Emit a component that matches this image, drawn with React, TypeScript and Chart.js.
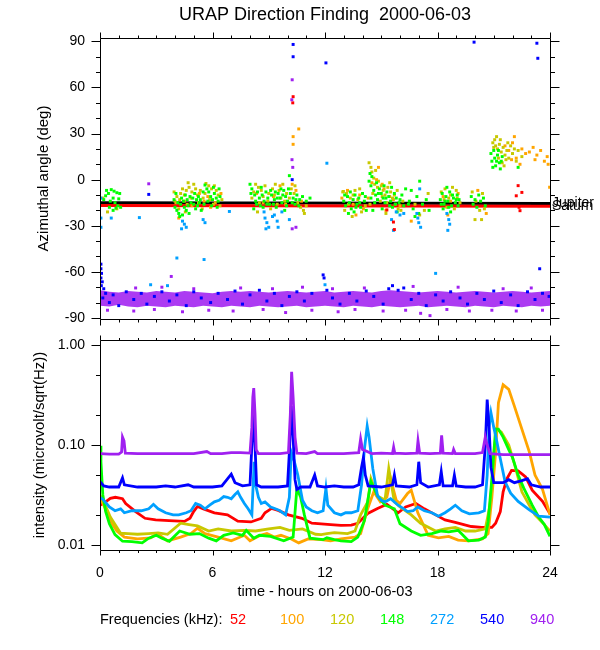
import React, { useEffect, useRef } from 'react';
import { Chart, registerables } from 'chart.js';

Chart.register(...registerables);

const FONT = '"Liberation Sans", Arial, Helvetica, sans-serif';
Chart.defaults.font.family = FONT;
Chart.defaults.color = '#000';

// ---------------- axis ticks ----------------
const HOUR_TICKS = [0, 1, 2, 3, 4, 5, 6, 7, 8, 9, 10, 11, 12, 13, 14, 15, 16, 17, 18, 19, 20, 21, 22, 23, 24];
const HOUR_LABELS = [0, 6, 12, 18, 24];
const AZ_TICKS = [-90, -80, -70, -60, -50, -40, -30, -20, -10, 0, 10, 20, 30, 40, 50, 60, 70, 80, 90];
const AZ_LABELS = [-90, -60, -30, 0, 30, 60, 90];
const INT_MAJOR = [0.01, 0.1, 1];
const INT_MINOR = [0.02, 0.05, 0.2, 0.5];
const AZ_RANGE = [-90.7, 92.2];
const INT_RANGE = [0.00891, 1.122];

// ---------------- legend ----------------
const FREQS = ['52', '100', '120', '148', '272', '540', '940'];
const FREQ_COLORS = ['#ff0000', '#ffa500', '#c8c800', '#00ff00', '#00a0ff', '#0000ff', '#a020f0'];

// ---------------- top panel: planets ----------------
const PLANET_NAMES = ['Jupiter', 'Saturn'];
const JUPITER_AZ = [[0, -15.0], [24, -15.5]];
const SATURN_AZ = [[0, -16.8], [24, -17.3]];

// purple 940 kHz band edges (deg)
const BAND_TOP = [[0, -72], [0.5, -73], [1, -73.5], [1.5, -72.5], [2, -73], [2.5, -73.5], [3, -72.5], [3.5, -73], [4, -73.5], [4.5, -72.5], [5, -73], [5.5, -73.5], [6, -74], [6.5, -73], [7, -72.5], [7.5, -73], [8, -72.5], [8.5, -73], [9, -73.5], [9.5, -73], [10, -72.5], [10.5, -73], [11, -73.5], [11.5, -73], [12, -72.5], [12.5, -73.5], [13, -73], [13.5, -72.5], [14, -73], [14.5, -73.5], [15, -72.5], [15.5, -72], [16, -72.5], [16.5, -73], [17, -73.5], [17.5, -73], [18, -72.5], [18.5, -73], [19, -73.5], [19.5, -73], [20, -72.5], [20.5, -73], [21, -73.5], [21.5, -73], [22, -72.5], [22.5, -73], [23, -73.5], [23.5, -73], [24, -72.5]];
const BAND_BOTTOM = [[0, -82], [0.5, -82.5], [1, -81.5], [1.5, -82.5], [2, -83], [2.5, -82], [3, -82.5], [3.5, -83], [4, -82], [4.5, -82.5], [5, -83], [5.5, -82], [6, -82.5], [6.5, -83], [7, -82], [7.5, -82.5], [8, -83], [8.5, -82], [9, -82.5], [9.5, -83], [10, -82.5], [10.5, -82], [11, -83], [11.5, -82.5], [12, -82], [12.5, -82.5], [13, -83], [13.5, -82], [14, -82.5], [14.5, -83], [15, -82], [15.5, -82.5], [16, -83], [16.5, -82.5], [17, -82], [17.5, -83], [18, -82.5], [18.5, -82], [19, -82.5], [19.5, -83], [20, -82], [20.5, -82.5], [21, -83], [21.5, -82], [22, -82.5], [22.5, -83], [23, -82], [23.5, -82.5], [24, -82]];

// ---------------- top panel: direction-finding points [hour, deg] ----------------
const AZ_148 = [
  [0.6, -6.5], [0.75, -7.5], [0.45, -9], [0.9, -8.5], [0.7, -12], [0.3, -10.5], [1.0, -12.5], [0.5, -18], [0.85, -18.5], [0.95, -17], [0.7, -20], [1.1, -18], [0.2, -13],
  [0.35, -7], [0.55, -14], [0.8, -15], [1.05, -9],
  [3.95, -13], [4.0, -18], [4.1, -20], [4.2, -22], [4.3, -16], [4.35, -12], [4.45, -14], [4.5, -18], [4.55, -10], [4.65, -13], [4.7, -17], [4.8, -11], [4.85, -15], [4.95, -12], [5.0, -16], [5.05, -9], [5.15, -13], [5.25, -11], [5.3, -15], [5.4, -20], [5.6, -3.5], [5.7, -6], [5.8, -8], [5.9, -11], [6.0, -13], [6.1, -9], [6.2, -12], [6.3, -14], [6.35, -6], [4.25, -24], [4.4, -23],
  [4.05, -9], [4.15, -15], [4.6, -20], [4.75, -22], [5.1, -19], [5.2, -17], [5.35, -13], [5.5, -8], [5.55, -16], [5.75, -14], [5.95, -17], [6.05, -5], [6.25, -18], [6.4, -11],
  [8.0, -3], [8.1, -6], [8.25, -10], [8.3, -14], [8.4, -8], [8.5, -12], [8.55, -17], [8.65, -10], [8.75, -14], [8.85, -8], [8.95, -12], [9.05, -16], [9.15, -10], [9.3, -13], [9.4, -18], [9.5, -9], [9.6, -12], [9.7, -15], [9.8, -7], [9.9, -11], [10.0, -14], [10.1, 2.6], [10.15, -9], [10.3, -12], [10.4, -16], [10.5, -10], [10.65, -13], [11.0, -14], [11.2, -12], [8.2, -19], [9.85, -20],
  [8.05, -9], [8.35, -16], [8.6, -5], [8.7, -18], [8.9, -16], [9.1, -7], [9.25, -16], [9.35, -8], [9.45, -12], [9.65, -6], [9.75, -10], [9.95, -17], [10.05, -6], [10.25, -15], [10.45, -13], [10.6, -17], [10.8, -11],
  [13.0, -14], [13.1, -17], [13.2, -11], [13.3, -15], [13.4, -19], [13.5, -13], [13.6, -10], [13.7, -16], [13.8, -12], [13.9, -18], [14.0, -9], [14.1, -14], [14.2, -20], [13.25, -22], [13.55, -21],
  [13.05, -10], [13.35, -8], [13.65, -18], [13.85, -15], [14.15, -11],
  [14.35, -1], [14.4, 4], [14.45, -4], [14.5, 2], [14.6, -7], [14.7, -10], [14.75, -2], [14.8, -13], [14.9, -6], [15.0, -9], [15.1, -12], [15.2, -15], [15.3, -8], [15.4, -11], [15.5, -14], [15.6, -18], [15.7, -9], [15.8, -12], [15.95, -15], [16.1, -10], [16.3, -6], [16.45, -16], [14.55, -20], [15.05, -19], [15.85, -21],
  [14.45, -12], [14.65, -15], [14.85, -9], [15.15, -4], [15.25, -12], [15.45, -17], [15.55, -5], [15.75, -16], [16.0, -13], [16.2, -17],
  [16.5, -14], [16.7, -19], [16.9, -11], [17.0, -22], [17.2, -16], [17.4, -13], [17.55, -20], [16.6, -7], [17.05, -1], [16.8, -24],
  [18.15, -13], [18.25, -9], [18.35, -16], [18.45, -11], [18.55, -14], [18.65, -8], [18.75, -17], [18.85, -12], [18.95, -15], [19.05, -10], [19.15, -13], [18.3, -19], [18.7, -21], [18.5, -5],
  [18.2, -16], [18.4, -14], [18.6, -18], [18.8, -10], [19.0, -13], [19.1, -17],
  [19.8, -11], [19.9, -16], [20.0, -13], [20.1, -18], [20.2, -10], [20.3, -14], [20.45, -12], [20.55, -17],
  [20.85, 17], [20.9, 12], [21.0, 19], [21.05, 14], [21.1, 9], [21.2, 16], [21.3, 11], [21.35, 7], [21.45, 15], [20.95, 8], [22.3, 8],
  [21.15, 12], [21.25, 19], [21.4, 12],
];
const AZ_120 = [
  [0.4, -21], [0.15, -12], [0.9, -19],
  [3.95, -8], [4.1, -11], [4.3, -9], [4.4, -6], [4.6, -7], [4.75, -5], [4.9, -8], [5.1, -6], [5.2, -10], [5.35, -7], [5.5, -12], [5.65, -2.5], [5.8, -4], [5.95, -6], [6.05, -16], [6.2, -7], [6.3, -10], [6.4, -17], [4.2, -19], [4.55, -21], [5.45, -19], [4.7, -2],
  [4.0, -14], [4.25, -13], [4.5, -10], [4.65, -16], [4.85, -12], [5.0, -3], [5.25, -15], [5.6, -9], [5.85, -13], [6.1, -4], [6.5, -13],
  [8.1, -12], [8.3, -3], [8.45, -5], [8.6, -7], [8.8, -4], [9.0, -9], [9.2, -6], [9.35, -3], [9.55, -7], [9.75, -3], [9.95, -9], [10.2, -6], [10.35, -9], [10.55, -15], [10.7, -18], [10.85, -20], [11.0, -17], [8.4, -21], [9.1, -19], [10.9, -22], [12.98, -7.7],
  [8.2, -8], [8.5, -15], [8.7, -11], [8.95, -14], [9.3, -10], [9.45, -16], [9.65, -12], [9.85, -14], [10.1, -12], [10.4, -4],
  [12.95, -8], [13.15, -9], [13.35, -12], [13.6, -7], [13.75, -13], [13.95, -21], [14.15, -17], [13.05, -20], [13.45, -24],
  [13.25, -16], [13.5, -10], [13.85, -6],
  [14.35, 11], [14.45, 8], [14.5, 5], [14.6, 1], [14.65, -3], [14.7, 6], [14.85, -1], [15.0, -4], [15.1, -7], [15.2, -10], [15.35, -5], [15.5, -8], [15.6, -12], [15.75, -16], [15.9, -19], [16.05, -20], [14.4, -16], [14.95, -14], [15.25, -22],
  [14.55, -9], [14.8, -5], [15.05, -11], [15.3, -15], [15.45, -2], [15.7, -10], [15.85, -7], [16.15, -14],
  [16.8, -16], [17.3, -20], [17.5, -9], [17.05, -23],
  [18.2, -8], [18.4, -6], [18.6, -12], [18.8, -5], [19.0, -7], [19.2, -15], [18.5, -18], [18.9, -19],
  [18.35, -13], [18.7, -10], [19.05, -12],
  [19.85, -8], [20.05, -14], [20.25, -20], [20.4, -9], [20.5, -19], [20.35, -26], [20.0, -26],
  [20.95, 24], [21.05, 26], [21.1, 22], [21.2, 20], [21.3, 23], [21.4, 18], [21.5, 21], [21.6, 16], [21.7, 19], [21.8, 14], [21.9, 22], [22.0, 17], [21.25, 14], [21.45, 11], [21.15, 28], [22.3, 19], [22.5, 15], [22.2, 12], [21.55, 9],
  [21.0, 21], [21.35, 26], [21.65, 13], [21.75, 24], [22.1, 20],
];
const AZ_100 = [
  [4.05, -15], [4.5, -14], [4.9, -17], [5.3, -9], [5.55, -14], [5.75, -11], [6.15, -15], [6.45, -9], [4.2, -25], [5.9, -18],
  [8.35, -9], [8.7, -15], [9.25, -11], [9.6, -4], [9.9, -16], [10.25, -3], [10.45, -7], [10.75, -14], [10.6, 33], [10.3, 23], [10.3, 28],
  [12.9, -12], [13.2, -7], [13.5, -16], [13.85, -10], [14.05, -19], [13.65, -23],
  [14.5, -2], [14.75, 0], [14.85, 8], [15.05, -3], [15.15, -6], [15.45, -11], [15.65, -13], [16.0, -17], [14.3, -12], [15.25, -20],
  [16.6, -27], [18.3, -11], [18.7, -14], [19.1, -9], [18.55, -23], [20.15, -7], [20.6, -22],
  [21.6, 22], [21.8, 19], [22.0, 24], [22.2, 14], [22.5, 20], [22.7, 17], [22.9, 18], [23.1, 21], [23.3, 16], [23.5, 19], [23.7, 12], [23.9, 10], [22.4, 10], [21.95, 13], [23.2, 13], [23.85, 15], [22.1, 28], [23.98, -5],
];
const AZ_272 = [
  [0.05, -12], [0.05, -25], [0.6, -25], [0.05, -31], [2.1, -24.7], [4.1, -51], [5.55, -52],
  [4.4, -27], [4.5, -29], [4.35, -32], [4.6, -31], [5.5, -26], [5.6, -28], [6.9, -20.7],
  [8.75, -21], [8.8, -25], [8.9, -28], [9.0, -31], [9.2, -24], [9.3, -23], [9.45, -27], [9.5, -31], [9.7, -21], [8.85, -32], [10.1, -26],
  [12.1, 10.7], [15.55, -26], [15.65, -33], [15.8, -21], [16.0, -23], [16.2, -22],
  [17.05, -6], [16.95, -25], [17.0, -28], [17.1, -31], [16.9, -22],
  [18.6, -26], [18.65, -29], [18.55, -33], [18.5, -22],
  [2.7, -68.4], [3.6, -69], [12.0, -68.4], [17.9, -61],
];
const AZ_540 = [
  [0.05, -55], [0.05, -58], [0.08, -61], [0.05, -64], [0.12, -66.5], [0.07, -69], [0.2, -71], [0.3, -74], [0.15, -77], [0.5, -80], [0.7, -75], [1.0, -82],
  [1.4, -73], [1.8, -78], [2.2, -74], [2.5, -81], [2.9, -76], [3.3, -73], [3.7, -79], [4.1, -75], [4.6, -82], [5.0, -73], [5.4, -77], [5.9, -80],
  [6.3, -74], [6.8, -78], [7.2, -72.5], [7.6, -81], [8.0, -75], [8.5, -72], [8.9, -79], [9.3, -74], [9.7, -82], [10.1, -76], [10.5, -73], [10.9, -79],
  [11.3, -74], [11.9, -62], [11.95, -64], [12.1, -72], [12.4, -77], [12.8, -81], [13.3, -74], [13.7, -79], [14.2, -72.5], [14.6, -76], [15.1, -81],
  [15.4, -71], [15.6, -69], [15.9, -72], [16.2, -70.5], [16.6, -78], [17.0, -74], [17.4, -82], [17.9, -75], [18.3, -79], [18.7, -73], [19.2, -77],
  [19.6, -81], [20.1, -74], [20.5, -78], [21.0, -72.5], [21.4, -80], [21.9, -75], [22.3, -82], [22.8, -73], [23.2, -78], [23.6, -74], [23.95, -76],
  [10.3, 88], [10.3, 80], [10.25, 0], [2.6, -9.6], [12.05, 76], [19.95, 89.5], [23.3, 88.8], [23.35, 79], [23.45, -58],
];
const AZ_940 = [
  [2.6, -2.7], [10.24, 13], [10.28, 8], [10.25, -32], [10.45, -31], [10.23, 52], [10.25, 65], [3.8, -63],
  [1.9, -70.5], [3.3, -70], [5.0, -71], [7.5, -70.5], [9.2, -71], [10.8, -70], [12.4, -71], [14.1, -70.5], [16.7, -69.5], [19.1, -70], [21.5, -71], [23.0, -70.5],
  [0.4, -85], [1.8, -85.5], [2.9, -84.5], [4.4, -86], [5.8, -85], [7.1, -85.5], [8.7, -84.5], [9.9, -86.5], [11.3, -85], [12.7, -86], [13.6, -84.5], [15.1, -85.5],
  [16.3, -85], [17.1, -87], [17.6, -88.5], [18.5, -84.5], [19.7, -85.5], [20.9, -85], [22.2, -85.5], [23.6, -85],
];
const AZ_52 = [
  [10.3, 54], [10.28, 50], [15.65, -27.6], [15.7, -32.5], [15.3, -19.7], [22.3, -3.9], [22.5, -8.3], [22.2, -10.5], [22.4, -20.2], [22.35, -18],
];

// ---------------- bottom panel: intensity [hour, microvolt/sqrt(Hz)] ----------------
const INT_940 = [[0, 0.082], [0.5, 0.081], [1.0, 0.081], [1.15, 0.085], [1.2, 0.12], [1.28, 0.11], [1.35, 0.083], [2, 0.082], [3, 0.082], [4, 0.082], [5, 0.082], [5.7, 0.086], [5.9, 0.082], [6.5, 0.082], [7, 0.084], [7.5, 0.084], [8.0, 0.083], [8.1, 0.15], [8.15, 0.3], [8.2, 0.37], [8.27, 0.2], [8.33, 0.09], [8.45, 0.082], [9, 0.082], [9.6, 0.082], [10.05, 0.084], [10.15, 0.2], [10.22, 0.54], [10.3, 0.3], [10.4, 0.12], [10.5, 0.083], [11, 0.082], [11.45, 0.086], [11.6, 0.082], [12, 0.082], [13, 0.082], [13.8, 0.084], [13.9, 0.115], [14.0, 0.09], [14.5, 0.082], [15.0, 0.083], [15.6, 0.082], [15.66, 0.095], [15.72, 0.083], [16.3, 0.082], [16.9, 0.083], [16.96, 0.11], [17.05, 0.083], [17.6, 0.082], [18.15, 0.083], [18.22, 0.125], [18.3, 0.083], [18.8, 0.082], [18.86, 0.09], [18.95, 0.082], [19.5, 0.082], [20.0, 0.082], [20.4, 0.084], [20.55, 0.12], [20.65, 0.1], [20.8, 0.082], [21.5, 0.08], [22, 0.08], [23, 0.08], [24, 0.08]];
const INT_540 = [[0, 0.043], [0.2, 0.039], [0.5, 0.038], [1.0, 0.038], [1.2, 0.047], [1.3, 0.04], [2, 0.038], [3, 0.038], [3.5, 0.039], [4, 0.038], [4.7, 0.04], [5, 0.038], [5.5, 0.038], [6, 0.038], [6.5, 0.039], [7.0, 0.051], [7.2, 0.042], [7.6, 0.039], [8.0, 0.04], [8.1, 0.1], [8.18, 0.22], [8.25, 0.12], [8.35, 0.04], [8.6, 0.038], [9, 0.038], [9.5, 0.038], [10.0, 0.039], [10.12, 0.1], [10.2, 0.245], [10.3, 0.12], [10.4, 0.045], [10.5, 0.036], [10.7, 0.038], [11.2, 0.038], [11.45, 0.05], [11.6, 0.039], [12, 0.038], [12.5, 0.039], [13, 0.038], [13.5, 0.038], [13.8, 0.04], [13.95, 0.06], [14.05, 0.075], [14.15, 0.05], [14.3, 0.039], [15, 0.038], [15.6, 0.04], [15.7, 0.05], [15.8, 0.039], [16.5, 0.038], [16.9, 0.04], [17.0, 0.068], [17.1, 0.042], [17.5, 0.038], [18.1, 0.04], [18.2, 0.054], [18.3, 0.039], [18.8, 0.039], [18.9, 0.05], [19.0, 0.039], [19.5, 0.038], [20.0, 0.038], [20.4, 0.04], [20.55, 0.1], [20.65, 0.285], [20.75, 0.15], [20.85, 0.06], [21.0, 0.042], [21.5, 0.042], [21.8, 0.045], [22.1, 0.042], [22.5, 0.044], [22.8, 0.046], [23.0, 0.04], [23.5, 0.038], [24, 0.038]];
const INT_272 = [[0, 0.03], [0.2, 0.028], [0.5, 0.024], [0.8, 0.022], [1.1, 0.023], [1.3, 0.021], [1.7, 0.022], [2.2, 0.022], [2.6, 0.023], [2.85, 0.0255], [3.1, 0.023], [3.5, 0.021], [3.9, 0.02], [4.2, 0.02], [4.6, 0.021], [4.85, 0.022], [5.1, 0.026], [5.35, 0.025], [5.6, 0.023], [5.85, 0.025], [6.1, 0.027], [6.35, 0.028], [6.6, 0.0305], [6.8, 0.03], [7.0, 0.029], [7.2, 0.032], [7.35, 0.034], [7.5, 0.03], [7.7, 0.026], [7.9, 0.023], [8.1, 0.02], [8.18, 0.045], [8.22, 0.068], [8.3, 0.04], [8.45, 0.03], [8.6, 0.026], [8.8, 0.027], [9.1, 0.024], [9.35, 0.023], [9.6, 0.022], [9.9, 0.02], [10.1, 0.03], [10.2, 0.085], [10.35, 0.07], [10.55, 0.05], [10.8, 0.028], [11.0, 0.024], [11.3, 0.022], [11.6, 0.021], [11.9, 0.022], [12.05, 0.037], [12.15, 0.025], [12.5, 0.021], [12.85, 0.02], [13.1, 0.021], [13.4, 0.021], [13.75, 0.022], [13.95, 0.04], [14.1, 0.09], [14.25, 0.155], [14.35, 0.12], [14.55, 0.058], [14.8, 0.031], [15.0, 0.028], [15.2, 0.027], [15.5, 0.029], [15.9, 0.025], [16.2, 0.023], [16.4, 0.0216], [16.7, 0.022], [16.95, 0.024], [17.3, 0.022], [17.7, 0.021], [18.05, 0.0194], [18.4, 0.021], [18.7, 0.023], [18.95, 0.025], [19.3, 0.022], [19.7, 0.0205], [20.2, 0.021], [20.5, 0.022], [20.65, 0.05], [20.75, 0.15], [20.85, 0.21], [21.0, 0.15], [21.1, 0.124], [21.35, 0.073], [21.6, 0.043], [21.9, 0.033], [22.3, 0.0273], [22.9, 0.0224], [23.4, 0.0194], [24, 0.019]];
const INT_148 = [[0, 0.098], [0.05, 0.068], [0.1, 0.046], [0.15, 0.0317], [0.3, 0.0217], [0.5, 0.0163], [0.8, 0.0127], [1.2, 0.0109], [1.7, 0.0108], [2.25, 0.0105], [2.6, 0.0117], [3.0, 0.0125], [3.3, 0.0117], [3.7, 0.0109], [4.25, 0.0138], [4.8, 0.0128], [5.3, 0.013], [5.8, 0.0117], [6.2, 0.011], [6.6, 0.0125], [7.1, 0.0132], [7.6, 0.0125], [7.8, 0.014], [8.2, 0.0117], [8.5, 0.0125], [9.1, 0.0122], [9.8, 0.011], [10.3, 0.012], [10.5, 0.037], [10.7, 0.03], [10.9, 0.02], [11.2, 0.0117], [11.9, 0.0113], [12.1, 0.0118], [12.5, 0.0113], [12.85, 0.011], [13.4, 0.0108], [13.75, 0.012], [14.1, 0.0175], [14.45, 0.043], [14.8, 0.031], [15.2, 0.025], [15.7, 0.023], [16.0, 0.0163], [16.6, 0.0138], [17.1, 0.0125], [17.7, 0.013], [18.2, 0.0138], [18.6, 0.0135], [19.1, 0.014], [19.65, 0.011], [20.2, 0.0112], [20.55, 0.012], [20.7, 0.017], [20.9, 0.046], [21.1, 0.144], [21.25, 0.144], [21.5, 0.12], [21.8, 0.09], [22.0, 0.075], [22.3, 0.05], [22.6, 0.037], [23.05, 0.025], [23.4, 0.019], [23.7, 0.016], [24, 0.0122]];
const INT_120 = [[0, 0.031], [0.1, 0.03], [0.55, 0.019], [1.1, 0.0131], [1.5, 0.013], [2.0, 0.0128], [2.6, 0.013], [3.1, 0.0132], [3.6, 0.0128], [4.3, 0.0165], [4.75, 0.016], [5.2, 0.0155], [5.8, 0.0138], [6.3, 0.0145], [7.0, 0.0138], [7.7, 0.014], [8.3, 0.0138], [9.0, 0.0145], [9.6, 0.015], [10.1, 0.014], [10.8, 0.0145], [11.5, 0.0128], [11.8, 0.0127], [12.1, 0.013], [12.5, 0.0133], [13.2, 0.013], [13.6, 0.0138], [13.9, 0.02], [14.28, 0.027], [14.45, 0.046], [14.8, 0.031], [15.2, 0.028], [15.4, 0.058], [15.7, 0.027], [16.0, 0.024], [16.6, 0.02], [17.1, 0.0165], [17.9, 0.0138], [18.4, 0.0145], [18.95, 0.015], [19.5, 0.0138], [20.0, 0.0138], [20.55, 0.0145], [20.8, 0.025], [20.9, 0.0395], [21.0, 0.08], [21.15, 0.144], [21.4, 0.135], [21.8, 0.1], [22.1, 0.065], [22.5, 0.034], [22.9, 0.025], [23.2, 0.02], [23.7, 0.016], [24, 0.0138]];
const INT_100 = [[0, 0.03], [0.1, 0.0273], [0.36, 0.0217], [0.55, 0.0173], [0.9, 0.0138], [1.3, 0.012], [2.0, 0.0115], [2.7, 0.0118], [3.07, 0.013], [3.6, 0.011], [4.3, 0.012], [4.85, 0.013], [5.2, 0.0147], [5.6, 0.013], [6.3, 0.012], [7.0, 0.011], [7.7, 0.0125], [8.0, 0.011], [8.55, 0.0125], [8.9, 0.013], [9.3, 0.012], [9.65, 0.0125], [10.2, 0.0115], [10.6, 0.0105], [11.1, 0.0115], [11.8, 0.0113], [12.3, 0.011], [12.85, 0.0115], [13.6, 0.012], [13.9, 0.013], [14.28, 0.0232], [14.6, 0.034], [14.95, 0.027], [15.3, 0.03], [15.5, 0.046], [15.8, 0.028], [16.0, 0.026], [16.4, 0.0327], [16.6, 0.0353], [16.95, 0.021], [17.5, 0.0125], [18.05, 0.0118], [18.6, 0.0122], [19.1, 0.0112], [19.65, 0.011], [20.4, 0.0115], [20.7, 0.013], [20.9, 0.03], [21.1, 0.085], [21.25, 0.265], [21.5, 0.4], [21.8, 0.36], [22.1, 0.245], [22.5, 0.144], [22.9, 0.085], [23.2, 0.05], [23.6, 0.036], [23.9, 0.0232], [24, 0.02]];
const INT_52 = [[0, 0.025], [0.3, 0.027], [0.55, 0.0293], [0.82, 0.03], [1.2, 0.029], [1.37, 0.026], [1.9, 0.0216], [2.4, 0.0185], [2.97, 0.0178], [3.68, 0.0175], [4.5, 0.0172], [4.8, 0.0185], [5.0, 0.0217], [5.2, 0.0243], [5.55, 0.0228], [6.1, 0.021], [6.8, 0.02], [7.35, 0.0173], [8.05, 0.017], [8.6, 0.0185], [8.8, 0.021], [9.15, 0.0232], [9.5, 0.0222], [10.05, 0.02], [10.77, 0.0185], [11.3, 0.0165], [12.3, 0.016], [12.85, 0.0157], [13.4, 0.0158], [13.75, 0.0165], [14.28, 0.0207], [14.8, 0.0232], [15.3, 0.0255], [15.9, 0.021], [16.3, 0.024], [16.85, 0.026], [17.3, 0.023], [17.9, 0.02], [18.4, 0.0178], [18.95, 0.0168], [19.8, 0.0153], [20.35, 0.015], [20.9, 0.015], [21.1, 0.0165], [21.35, 0.0216], [21.5, 0.034], [21.7, 0.046], [21.95, 0.0557], [22.3, 0.055], [22.7, 0.048], [23.05, 0.0353], [23.6, 0.0273], [24, 0.0205]];

const INT_SERIES = [INT_52, INT_100, INT_120, INT_148, INT_272, INT_540, INT_940];

const xy = (pairs: number[][]) => pairs.map((p) => ({ x: p[0], y: p[1] }));

const fixBox = (w?: number, h?: number) => (s: any) => {
  if (w !== undefined) s.width = w;
  if (h !== undefined) s.height = h;
  s.paddingTop = 0; s.paddingBottom = 0; s.paddingLeft = 0; s.paddingRight = 0;
};

const noGrid = { display: false, drawTicks: false };

function framePlugin(o: { xMaj: number; xMin: number; yMaj: number; yMin: number; yTicks: { v: number; major: boolean }[] }) {
  return {
    id: 'frameTicks',
    afterDatasetsDraw(chart: any) {
      const { ctx, chartArea: a } = chart;
      const xs = chart.scales.x;
      const ys = chart.scales.y;
      const p = (v: number) => Math.round(v) + 0.5;
      const L = p(a.left), R = p(a.right), T = p(a.top), B = p(a.bottom);
      ctx.save();
      ctx.strokeStyle = '#000';
      ctx.lineWidth = 1;
      ctx.beginPath();
      ctx.rect(L, T, R - L, B - T);
      HOUR_TICKS.forEach((h) => {
        const x = p(xs.getPixelForValue(h));
        const len = h % 6 === 0 ? o.xMaj : o.xMin;
        ctx.moveTo(x, T); ctx.lineTo(x, T - len);
        ctx.moveTo(x, B); ctx.lineTo(x, B + len);
      });
      o.yTicks.forEach((t) => {
        const y = p(ys.getPixelForValue(t.v));
        const len = t.major ? o.yMaj : o.yMin;
        ctx.moveTo(L, y); ctx.lineTo(L - len, y);
        ctx.moveTo(R, y); ctx.lineTo(R + len, y);
      });
      ctx.stroke();
      ctx.restore();
    },
  };
}

const scatterSet = (data: number[][], color: string, order: number) => ({
  data: xy(data),
  backgroundColor: color,
  borderColor: color,
  borderWidth: 0,
  pointStyle: 'rect',
  pointRadius: 2.1,
  order,
});

function topConfig(): any {
  const lineSet = (data: number[][], color: string, order: number) => ({
    data: xy(data), showLine: true, borderColor: color, borderWidth: 3, pointRadius: 0, fill: false, order,
  });
  return {
    type: 'scatter',
    data: {
      datasets: [
        { data: xy(BAND_TOP), showLine: true, borderColor: 'rgba(0,0,0,0)', borderWidth: 1, pointRadius: 0, fill: false, order: 20 },
        { data: xy(BAND_BOTTOM), showLine: true, borderColor: 'rgba(0,0,0,0)', borderWidth: 1, pointRadius: 0, fill: 0, backgroundColor: 'rgba(160,32,240,0.88)', order: 19 },
        lineSet(JUPITER_AZ, '#000000', 15),
        lineSet(SATURN_AZ, '#ff0000', 14),
        scatterSet(AZ_100, FREQ_COLORS[1], 9),
        scatterSet(AZ_120, FREQ_COLORS[2], 8),
        scatterSet(AZ_148, FREQ_COLORS[3], 7),
        scatterSet(AZ_272, FREQ_COLORS[4], 6),
        scatterSet(AZ_52, FREQ_COLORS[0], 5),
        scatterSet(AZ_940, FREQ_COLORS[6], 4),
        scatterSet(AZ_540, FREQ_COLORS[5], 3),
      ],
    },
    options: {
      responsive: false,
      animation: false,
      events: [],
      layout: { padding: { top: 0, left: 0, right: 0, bottom: 11 }, autoPadding: false },
      plugins: {
        legend: { display: false },
        tooltip: { enabled: false },
        title: {
          display: true,
          text: 'URAP Direction Finding  2000-06-03',
          font: { size: 18, weight: 'normal', family: FONT },
          color: '#000',
          padding: { top: 4.7, bottom: 11.7 },
          fullSize: false,
        },
      },
      scales: {
        x: { type: 'linear', min: 0, max: 24, display: false, afterFit: fixBox(undefined, 0) },
        y: {
          type: 'linear', position: 'left', min: AZ_RANGE[0], max: AZ_RANGE[1],
          grid: noGrid, border: { display: false },
          afterBuildTicks: (s: any) => { s.ticks = AZ_LABELS.map((v) => ({ value: v })); },
          ticks: { font: { size: 14 }, color: '#000', padding: 15, autoSkip: false },
          title: { display: true, text: 'Azimuthal angle (deg)', font: { size: 15 }, color: '#000', padding: { top: 35, bottom: 0 } },
          afterFit: fixBox(100),
        },
        y2: {
          type: 'linear', position: 'right', min: AZ_RANGE[0], max: AZ_RANGE[1],
          grid: noGrid, border: { display: false },
          afterBuildTicks: (s: any) => {
            s.ticks = [JUPITER_AZ[JUPITER_AZ.length - 1][1] + 0.2, SATURN_AZ[SATURN_AZ.length - 1][1]].map((v) => ({ value: v }));
          },
          ticks: { font: { size: 14 }, color: '#000', padding: 2, autoSkip: false, callback: (_v: any, i: number) => PLANET_NAMES[i] },
          afterFit: fixBox(50),
        },
      },
    },
    plugins: [framePlugin({ xMaj: 6, xMin: 3, yMaj: 9, yMin: 4.5, yTicks: AZ_TICKS.map((v) => ({ v, major: v % 30 === 0 })) })],
  };
}

function bottomConfig(): any {
  const orders = [6, 5, 4, 3, 2, 1, 0];
  return {
    type: 'scatter',
    data: {
      datasets: INT_SERIES.map((s, i) => ({
        data: xy(s), showLine: true, borderColor: FREQ_COLORS[i], backgroundColor: FREQ_COLORS[i],
        borderWidth: 2.8, pointRadius: 0, fill: false, tension: 0, order: orders[i],
      })),
    },
    options: {
      responsive: false,
      animation: false,
      events: [],
      layout: { padding: { top: 15, left: 0, right: 50, bottom: 0 }, autoPadding: false },
      plugins: { legend: { display: false }, tooltip: { enabled: false }, title: { display: false } },
      scales: {
        x: {
          type: 'linear', position: 'bottom', min: 0, max: 24,
          grid: noGrid, border: { display: false },
          afterBuildTicks: (s: any) => { s.ticks = HOUR_LABELS.map((v) => ({ value: v })); },
          ticks: { font: { size: 14 }, color: '#000', padding: 14.6, autoSkip: false, maxRotation: 0 },
          title: { display: true, text: 'time - hours on 2000-06-03', font: { size: 14.5 }, color: '#000', padding: { top: 0, bottom: 14.3 } },
          afterFit: fixBox(undefined, 65),
        },
        y: {
          type: 'logarithmic', position: 'left', min: INT_RANGE[0], max: INT_RANGE[1],
          grid: noGrid, border: { display: false },
          afterBuildTicks: (s: any) => { s.ticks = INT_MAJOR.map((v) => ({ value: v })); },
          ticks: { font: { size: 14 }, color: '#000', padding: 15, autoSkip: false, callback: (v: any) => Number(v).toFixed(2) },
          title: { display: true, text: 'intensity (microvolt/sqrt(Hz))', font: { size: 15 }, color: '#000', padding: { top: 30.5, bottom: 0 } },
          afterFit: fixBox(100),
        },
      },
    },
    plugins: [framePlugin({
      xMaj: 5, xMin: 2.5, yMaj: 9, yMin: 4.5,
      yTicks: [...INT_MAJOR.map((v) => ({ v, major: true })), ...INT_MINOR.map((v) => ({ v, major: false }))],
    })],
  };
}

const LEGEND_LEFT = [230, 280, 330, 380, 430, 480, 530];

export default function App() {
  const topRef = useRef<HTMLCanvasElement>(null);
  const botRef = useRef<HTMLCanvasElement>(null);
  useEffect(() => {
    const c1 = new Chart(topRef.current as HTMLCanvasElement, topConfig());
    const c2 = new Chart(botRef.current as HTMLCanvasElement, bottomConfig());
    return () => { c1.destroy(); c2.destroy(); };
  }, []);
  const txt: React.CSSProperties = { position: 'absolute', top: 611, fontFamily: FONT, fontSize: '14.5px', lineHeight: '17px', whiteSpace: 'nowrap' };
  return (
    <div style={{ position: 'absolute', left: 0, top: 0, width: 600, height: 650, background: '#fff', overflow: 'hidden' }}>
      <canvas ref={topRef} width={600} height={330} style={{ position: 'absolute', left: 0, top: 0 }} />
      <canvas ref={botRef} width={600} height={290} style={{ position: 'absolute', left: 0, top: 325 }} />
      <div style={{ ...txt, left: 100, color: '#000' }}>Frequencies (kHz):</div>
      {FREQS.map((f, i) => (
        <div key={f} style={{ ...txt, left: LEGEND_LEFT[i], color: FREQ_COLORS[i] }}>{f}</div>
      ))}
    </div>
  );
}
